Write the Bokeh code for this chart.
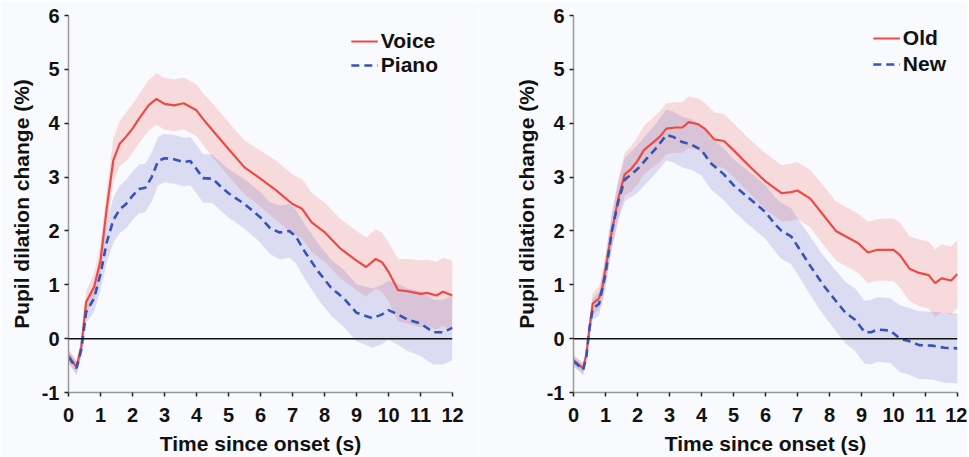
from bokeh.plotting import figure
from bokeh.layouts import row
from bokeh.models import Range1d, FixedTicker, Legend, LegendItem, Span
from bokeh.embed import file_html
from bokeh.resources import INLINE

# ---------------- data ----------------
x_ticks = list(range(0, 13))
y_ticks = list(range(-1, 7))

voice_t = [0, 0.25, 0.4, 0.55, 0.8, 1.0, 1.2, 1.4, 1.6, 1.8,
           2.0, 2.2, 2.5, 2.75, 3.0, 3.3, 3.6, 4.0, 4.2, 4.5,
           5.0, 5.5, 6.0, 6.5, 7.0, 7.3, 7.6, 8.0, 8.5, 9.0,
           9.3, 9.6, 9.8, 10.0, 10.3, 10.6, 11.0, 11.2, 11.5, 11.7,
           12.0]
voice_mean = [-0.31, -0.53, -0.15, 0.68, 0.96, 1.45, 2.44, 3.31, 3.62, 3.75,
              3.9, 4.08, 4.33, 4.45, 4.36, 4.33, 4.37, 4.24, 4.08, 3.87,
              3.52, 3.18, 2.97, 2.75, 2.5, 2.41, 2.16, 1.98, 1.67, 1.45,
              1.33, 1.48, 1.42, 1.24, 0.9, 0.88, 0.83, 0.85, 0.8, 0.87,
              0.8]
voice_se = [0.12, 0.12, 0.15, 0.2, 0.25, 0.3, 0.35, 0.4, 0.42, 0.45,
            0.45, 0.45, 0.47, 0.48, 0.48, 0.48, 0.48, 0.48, 0.48, 0.5,
            0.5, 0.5, 0.52, 0.55, 0.55, 0.55, 0.55, 0.55, 0.55, 0.55,
            0.55, 0.55, 0.55, 0.55, 0.58, 0.6, 0.62, 0.62, 0.63, 0.63,
            0.65]

piano_t = [0, 0.25, 0.4, 0.55, 0.8, 1.0, 1.2, 1.4, 1.6, 1.8,
           2.0, 2.2, 2.4, 2.6, 2.8, 3.0, 3.3, 3.6, 3.8, 4.0,
           4.2, 4.5, 4.8, 5.0, 5.5, 6.0, 6.3, 6.6, 6.9, 7.1,
           7.4, 7.8, 8.2, 8.6, 9.0, 9.5, 9.8, 10.0, 10.3, 10.6,
           11.0, 11.4, 11.7, 12.0]
piano_mean = [-0.34, -0.55, -0.2, 0.49, 0.75, 1.2, 1.8, 2.2, 2.4, 2.5,
              2.65, 2.78, 2.8, 3.0, 3.3, 3.35, 3.33, 3.28, 3.3, 3.15,
              2.98, 2.97, 2.8, 2.7, 2.5, 2.25, 2.05, 1.97, 2.0, 1.9,
              1.6, 1.25, 0.95, 0.75, 0.48, 0.38, 0.45, 0.53, 0.45, 0.35,
              0.28, 0.12, 0.12, 0.2]
piano_se = [0.12, 0.12, 0.15, 0.2, 0.25, 0.3, 0.38, 0.42, 0.44, 0.45,
            0.45, 0.45, 0.45, 0.45, 0.45, 0.45, 0.45, 0.45, 0.45, 0.45,
            0.45, 0.45, 0.45, 0.45, 0.46, 0.47, 0.48, 0.5, 0.5, 0.5,
            0.5, 0.52, 0.52, 0.53, 0.53, 0.55, 0.55, 0.55, 0.57, 0.58,
            0.6, 0.6, 0.6, 0.6]

old_t = [0, 0.2, 0.3, 0.4, 0.5, 0.6, 0.8, 0.9, 1.0, 1.2,
         1.4, 1.6, 1.8, 2.0, 2.2, 2.5, 2.7, 2.9, 3.2, 3.4,
         3.6, 3.9, 4.1, 4.4, 4.7, 5.0, 5.5, 6.0, 6.5, 6.8,
         7.0, 7.4, 7.8, 8.2, 8.5, 8.9, 9.2, 9.5, 10.0, 10.2,
         10.5, 10.8, 11.1, 11.3, 11.5, 11.8, 12.0]
old_mean = [-0.4, -0.5, -0.55, -0.3, 0.2, 0.65, 0.75, 0.95, 1.3, 2.0,
            2.6, 3.05, 3.15, 3.3, 3.5, 3.65, 3.75, 3.9, 3.92, 3.92,
            4.02, 3.98, 3.9, 3.7, 3.67, 3.5, 3.2, 2.92, 2.7, 2.72,
            2.75, 2.6, 2.3, 2.0, 1.9, 1.77, 1.6, 1.65, 1.65, 1.55,
            1.3, 1.22, 1.18, 1.03, 1.12, 1.08, 1.2]
old_se = [0.1, 0.1, 0.1, 0.12, 0.15, 0.2, 0.22, 0.25, 0.28, 0.32,
          0.36, 0.4, 0.42, 0.44, 0.45, 0.46, 0.47, 0.47, 0.47, 0.47,
          0.48, 0.48, 0.48, 0.5, 0.5, 0.5, 0.5, 0.52, 0.52, 0.53,
          0.53, 0.53, 0.55, 0.55, 0.55, 0.55, 0.57, 0.57, 0.58, 0.6,
          0.6, 0.62, 0.62, 0.63, 0.63, 0.63, 0.63]

new_t = [0, 0.2, 0.3, 0.4, 0.5, 0.6, 0.8, 1.0, 1.2, 1.4,
         1.6, 1.8, 2.0, 2.3, 2.6, 2.9, 3.1, 3.4, 3.7, 4.0,
         4.3, 4.7, 5.0, 5.5, 6.0, 6.3, 6.5, 6.8, 7.0, 7.4,
         7.8, 8.2, 8.5, 8.8, 9.1, 9.3, 9.5, 9.9, 10.2, 10.5,
         10.8, 11.2, 11.6, 12.0]
new_mean = [-0.42, -0.52, -0.58, -0.35, 0.2, 0.55, 0.65, 1.2, 2.0, 2.55,
            2.95, 3.05, 3.15, 3.35, 3.55, 3.78, 3.75, 3.65, 3.6, 3.5,
            3.25, 3.05, 2.85, 2.6, 2.35, 2.12, 2.0, 1.9, 1.72, 1.35,
            1.0, 0.7, 0.48, 0.35, 0.12, 0.12, 0.17, 0.15, 0.0, -0.05,
            -0.12, -0.13, -0.17, -0.18]
new_se = [0.1, 0.1, 0.1, 0.12, 0.15, 0.2, 0.22, 0.28, 0.32, 0.36,
          0.4, 0.42, 0.44, 0.45, 0.46, 0.47, 0.47, 0.47, 0.47, 0.47,
          0.48, 0.48, 0.48, 0.5, 0.5, 0.5, 0.52, 0.52, 0.52, 0.54,
          0.55, 0.56, 0.57, 0.58, 0.58, 0.6, 0.6, 0.6, 0.62, 0.62,
          0.63, 0.63, 0.65, 0.65]

x_label = "Time since onset (s)"
y_label = "Pupil dilation change (%)"

# ---------------- style ----------------
RED = "#ec4a44"
BLUE = "#3654b8"
RED_BAND = "#f26a6a"
BLUE_BAND = "#7070c8"
BG = "#f9fafd"
AXIS = "#9a9a9a"
TICK = "#222222"
FONT = "Liberation Sans"


def panel(series_a, series_b, labels, border_left, border_right, leg_margin, leg_spacing):
    p = figure(frame_width=384, frame_height=377,
               min_border_left=border_left, min_border_right=border_right,
               min_border_top=15, min_border_bottom=65,
               x_range=Range1d(0, 12), y_range=Range1d(-1, 6),
               output_backend="svg", toolbar_location=None)
    p.background_fill_color = BG
    p.border_fill_color = BG
    p.outline_line_color = None
    p.grid.visible = False

    ta, ma, sa = series_a
    tb, mb, sb = series_b
    p.varea(x=ta, y1=[m - s for m, s in zip(ma, sa)], y2=[m + s for m, s in zip(ma, sa)],
            fill_color=RED_BAND, fill_alpha=0.22)
    p.varea(x=tb, y1=[m - s for m, s in zip(mb, sb)], y2=[m + s for m, s in zip(mb, sb)],
            fill_color=BLUE_BAND, fill_alpha=0.22)

    p.add_layout(Span(location=0, dimension="width", line_color="#111111", line_width=1.5))

    ra = p.line(ta, ma, line_color=RED, line_width=2.2)
    rb = p.line(tb, mb, line_color=BLUE, line_width=2.6, line_dash="8 5")

    leg = Legend(items=[LegendItem(label=labels[0], renderers=[ra]),
                        LegendItem(label=labels[1], renderers=[rb])],
                 location="top_right", border_line_color=None,
                 background_fill_alpha=0, padding=0, margin=leg_margin,
                 spacing=leg_spacing, glyph_width=27, label_standoff=3,
                 label_text_font=FONT, label_text_font_style="bold",
                 label_text_font_size="21px", label_text_color="#111111")
    p.add_layout(leg)

    p.xaxis.ticker = FixedTicker(ticks=x_ticks)
    p.yaxis.ticker = FixedTicker(ticks=y_ticks)
    p.yaxis.major_label_overrides = {-1: "-1"}
    for ax in (p.xaxis[0], p.yaxis[0]):
        ax.axis_line_color = AXIS
        ax.axis_line_width = 1.5
        ax.major_tick_line_color = TICK
        ax.major_tick_line_width = 1.5
        ax.major_tick_out = 4
        ax.major_tick_in = 0
        ax.minor_tick_line_color = None
        ax.major_label_text_font = FONT
        ax.major_label_text_font_style = "bold"
        ax.major_label_text_font_size = "20px"
        ax.major_label_text_color = "#111111"
        ax.axis_label_text_font = FONT
        ax.axis_label_text_font_style = "bold"
        ax.axis_label_text_font_size = "21px"
        ax.axis_label_text_color = "#111111"
    p.xaxis.major_label_standoff = 11
    p.yaxis.major_label_standoff = 5
    p.xaxis.axis_label = x_label
    p.yaxis.axis_label = y_label
    p.xaxis.axis_label_standoff = 7
    p.yaxis.axis_label_standoff = 6
    return p


p1 = panel((voice_t, voice_mean, voice_se), (piano_t, piano_mean, piano_se),
           ("Voice", "Piano"), 68, 26, 14, 0)
p2 = panel((old_t, old_mean, old_se), (new_t, new_mean, new_se),
           ("Old", "New"), 95, 10, 11, 2)

layout = row(p1, p2)
html = file_html(layout, INLINE)
html = html.replace("<body>", "<body style=\"background:%s\">" % BG, 1)
open("out.html", "w").write(html)
